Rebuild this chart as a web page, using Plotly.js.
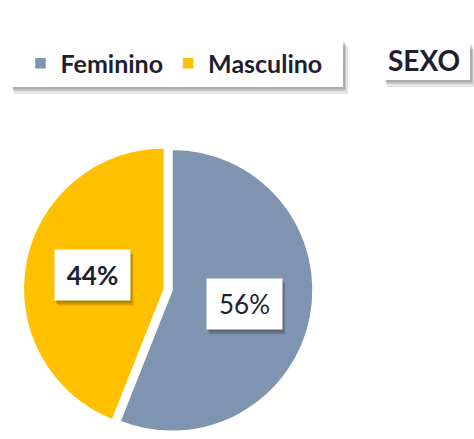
<!DOCTYPE html>
<html><head><meta charset="utf-8">
<script src="https://cdn.plot.ly/plotly-3.0.1.min.js"></script>
<style>html,body{margin:0;padding:0;background:#fff;overflow:hidden}</style>
</head><body><div id="chart" style="width:474px;height:439px"></div>
<script>
// ---- data ----
const categories = ['Feminino', 'Masculino'];
const values = [56, 44];
const sliceColors = ['#7f94b0', '#ffc000'];
const pulls = [0, 0.055];
const chartTitle = 'SEXO';

// ---- layout helpers (positions in px of the 474x439 page) ----
const W = 474, H = 439;
const px = x => x / W;
const py = y => 1 - y / H;
const pieCx = 172, pieHalf = 148.8;
const maxPull = Math.max(...pulls);
const r = pieHalf / (1 + maxPull);
const pieCy = H - pieHalf;
const textColor = '#1e1e30';

// label positions derived from the values (mid-angle of each slice)
const total = values.reduce((a, b) => a + b, 0);
const labelAnns = [];
const shadowAnns = [];
let cum = 0;
values.forEach((v, i) => {
  const theta = 2 * Math.PI * (cum + v / 2) / total; // clockwise from 12 o'clock
  cum += v;
  const d = r * (0.52 + pulls[i]);
  const x = pieCx + d * Math.sin(theta);
  const y = pieCy - d * Math.cos(theta);
  const pct = Math.round(100 * v / total) + '%';
  const base = {xref: 'paper', yref: 'paper', x: px(x), y: py(y), xanchor: 'center', yanchor: 'middle',
    showarrow: false, width: 71, height: 46, borderpad: 2};
  [[1, -2, 0.12], [2, -4, 0.12], [3, -5, 0.10]].forEach(s => {
    shadowAnns.push(Object.assign({}, base, {text: ' ', bgcolor: 'rgba(0,0,0,' + s[2] + ')', xshift: s[0], yshift: s[1]}));
  });
  labelAnns.push(Object.assign({}, base, {text: pct, bgcolor: '#ffffff',
    font: {family: 'Lato', size: 26, color: textColor, weight: i === 0 ? 'normal' : 'bold'}}));
});

function box(x0, y0, x1, y1, fill) {
  return {type: 'rect', xref: 'paper', yref: 'paper', x0: px(x0), x1: px(x1), y0: py(y1), y1: py(y0),
    fillcolor: fill, line: {width: 0}, layer: 'above'};
}
function shadowedBox(x0, y0, x1, y1) {
  return [
    box(x0 + 2, y0 + 2, x1 + 2, y1 + 2, 'rgba(0,0,0,0.12)'),
    box(x0 + 3, y0 + 4, x1 + 3, y1 + 4, 'rgba(0,0,0,0.14)'),
    box(x0 + 4, y0 + 6, x1 + 5, y1 + 7, 'rgba(0,0,0,0.10)'),
    box(x0, y0, x1, y1, '#ffffff')
  ];
}

const shapes = shadowedBox(10, 40, 343, 87).concat(shadowedBox(383, 43, 470, 80));

const trace = {
  type: 'pie',
  labels: categories,
  values: values,
  sort: false,
  direction: 'clockwise',
  rotation: 0,
  pull: pulls,
  marker: {colors: sliceColors, line: {color: '#ffffff', width: 1.5}},
  textinfo: 'none',
  hoverinfo: 'label+percent',
  domain: {x: [px(pieCx - pieHalf), px(pieCx + pieHalf)], y: [0, 2 * pieHalf / H]}
};

const layout = {
  width: W, height: H,
  margin: {l: 0, r: 0, t: 0, b: 0},
  paper_bgcolor: '#ffffff',
  title: {text: chartTitle, x: px(424), xanchor: 'center', y: py(61), yanchor: 'middle',
    font: {family: 'Lato', size: 28, weight: 'bold', color: textColor}},
  showlegend: true,
  legend: {orientation: 'h', x: px(174), xanchor: 'center', y: py(63.5), yanchor: 'middle',
    bgcolor: 'rgba(0,0,0,0)', font: {family: 'Lato', size: 25, weight: 'bold', color: textColor},
    traceorder: 'normal'},
  shapes: shapes,
  annotations: shadowAnns.concat(labelAnns)
};

Plotly.newPlot('chart', [trace], layout, {displayModeBar: false, staticPlot: true});
</script></body></html>
